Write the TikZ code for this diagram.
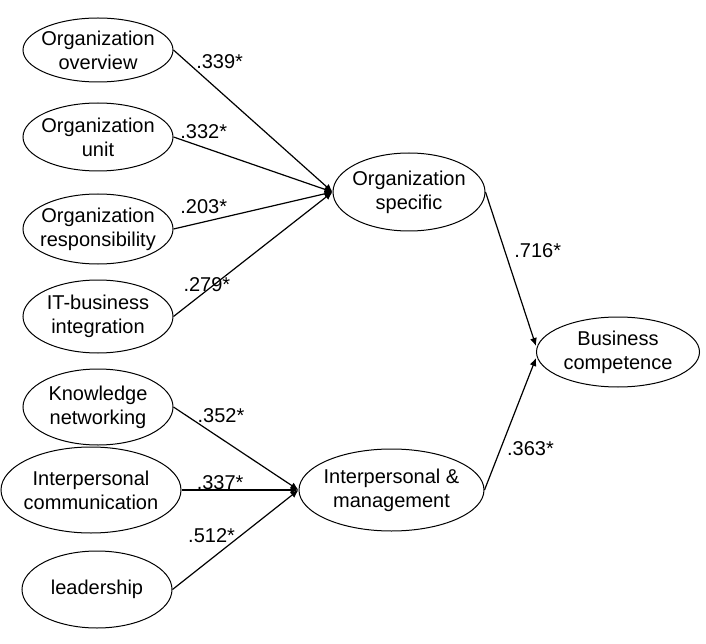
\documentclass[tikz,border=0pt]{standalone}
\usepackage{fontspec}
\setmainfont{Liberation Sans}
\usetikzlibrary{arrows.meta,positioning,shapes.geometric}

\begin{document}
\begin{tikzpicture}[
    x=1pt, y=-1pt,
    latent/.style={ellipse, draw=black, line width=1pt,
                   inner xsep=-6pt, inner ysep=0pt,
                   minimum width=150pt, align=center,
                   font=\fontsize{20}{24}\selectfont},
    arr/.style={-{Latex[length=8pt,width=7pt]}, line width=1.2pt, draw=black},
    coef/.style={font=\fontsize{20}{24}\selectfont, inner sep=0pt}
]
    \useasboundingbox (0,0) rectangle (706,644);

    % first-order factors
    \node[latent, minimum height=64pt] (overview) at (98,50) {Organization\\overview};
    \node[latent, minimum height=68pt, below=20pt of overview] (unit) {Organization\\unit};
    \node[latent, minimum height=70pt, below=22pt of unit] (resp) {Organization\\responsibility};
    \node[latent, minimum height=73pt, below=15pt of resp] (itbiz) {IT-business\\integration};
    \node[latent, minimum height=76pt, below=15pt of itbiz] (knowledge) {Knowledge\\networking};
    \node[latent, minimum width=180pt, minimum height=86pt,
          below=1pt of knowledge, xshift=-7pt] (comm) {Interpersonal\\communication};
    \node[latent, minimum height=77pt, below=17pt of comm, xshift=6pt] (leader) {leadership};

    % second-order factors
    \node[latent, minimum width=152pt, minimum height=78pt] (orgspec) at (409,192) {Organization\\specific};
    \node[latent, minimum width=185pt, minimum height=82pt, right=117pt of comm] (interman) {Interpersonal \&\\management};
    \node[latent, minimum width=163pt, minimum height=70pt] (busicomp) at (618,352) {Business\\competence};

    \draw[arr] (overview.east) -- node[coef, pos=0.29, yshift=30pt] (c1) {.339*} (orgspec.west);
    \draw[arr] (unit.east) -- node[coef, pos=0.19, yshift=16pt] (c2) {.332*} (orgspec.west);
    \draw[arr] (resp.east) -- node[coef, pos=0.19, yshift=15pt] (c3) {.203*} (orgspec.west);
    \draw[arr] (itbiz.east) -- node[coef, pos=0.21, yshift=6pt] (c4) {.279*} (orgspec.west);

    \draw[arr] (knowledge.east) -- node[coef, pos=0.38, yshift=23pt] (c5) {.352*} (interman.west);
    \draw[arr] (comm.east) -- node[coef, pos=0.33, yshift=7pt] (c6) {.337*} (interman.west);
    \draw[arr] (leader.east) -- node[coef, pos=0.31, yshift=23pt] (c7) {.512*} (interman.west);

    \draw[arr] (orgspec.east) -- node[coef, pos=0.38, xshift=33pt] (c8) {.716*} ([yshift=6pt]busicomp.west);
    \draw[arr] (interman.east) -- node[coef, pos=0.31, xshift=30pt] (c9) {.363*} ([yshift=-6pt]busicomp.west);
\end{tikzpicture}
\end{document}
